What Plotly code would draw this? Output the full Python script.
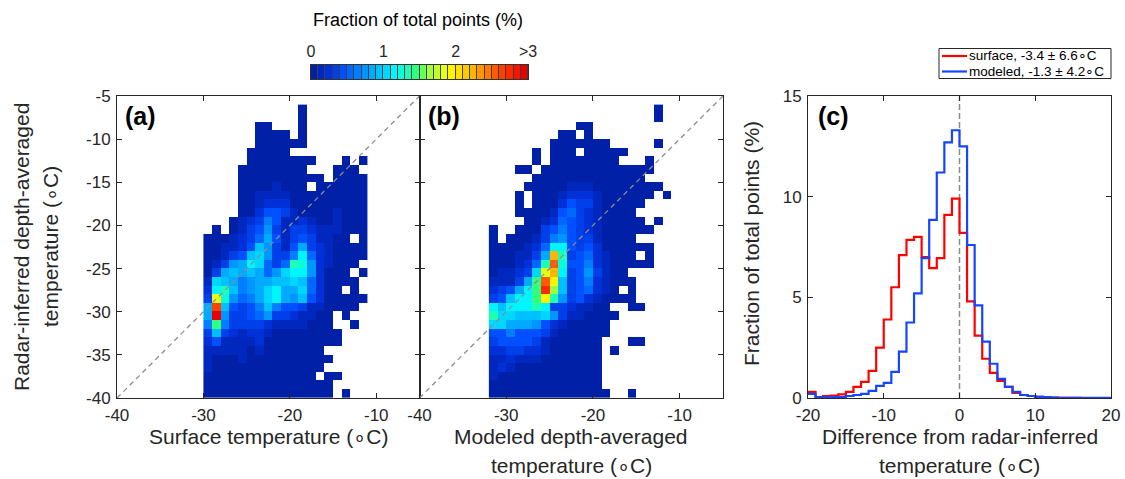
import numpy as np
import plotly.graph_objects as go

# ---------------- data ----------------
# colour level codes: each char is a 0.1 % colour step ('.' = no points)
LEVEL_CODES = "0123456789abcdefghijklmnopqrst"
LEVEL_STEP = 0.1

# Panel (a): surface temperature (x, 1 degC bins starting at -30) vs radar-inferred (y)
a_x_first_bin = -30
a_y_top_bin = -7
a_rows = [
    "...........0.......",
    "...........0.......",
    "......00...0.......",
    "......0000.0.......",
    "......000000.......",
    ".....00000.........",
    ".....00000000...0.0",
    "....00000000...000.",
    "....0000000000.0000",
    "....00001000.000000",
    "....001111000000000",
    "....001222000000000",
    "....002443100001000",
    "...0123641121001000",
    ".0.0134731332111000",
    "00012358413431100.0",
    "0011249731483210000",
    "001349a7336b5210000",
    "01378ba535dc721000.",
    "038989857abb72000.0",
    "1a98678899a9520000.",
    "2bd9678ab88a5200.0.",
    "3ic7568ab8794200000",
    "8q9434696443110000.",
    "8t7334573321100.0..",
    "6e6333321111000..0.",
    "3932122100000000...",
    "2411112000000000...",
    "11111010000000.....",
    "100010000000000....",
    "10000000000000.....",
    "0000000000000.00...",
    "000000000000000....",
    "000000000000000.0..",
]

# Panel (b): modeled depth-averaged temperature (x, bins starting at -32) vs radar-inferred (y)
b_x_first_bin = -32
b_y_top_bin = -7
b_rows = [
    "...................0..",
    "...................0..",
    "..........00..........",
    "........00.0..........",
    ".......0000000.....0..",
    ".....0.000.00000......",
    ".....0.00000000...0...",
    "...00.0000000000000...",
    ".....0000000000000....",
    "....0000011100000000..",
    "...0.00012221000000.0.",
    "...0.0002433100000....",
    "...00001453210000.....",
    "....00125432100000.0..",
    "0..0003464321000000...",
    "0.000136743310000.....",
    "0000125bb4342000000...",
    "0001138md34521000.0...",
    "000125dpc4462100000...",
    "01123aimb3473100......",
    "11138epj934621000.....",
    "2348berg9345210.0.....",
    "349bbejd734210000.....",
    "b9bbbdb3321100..00....",
    "daa999a73110000.......",
    "aa888742100000........",
    "44644431000000........",
    "3444431000000...00....",
    "2233221000000.0.......",
    "1121110000000.........",
    "1210000000000.........",
    "1000000000000.........",
    "0000000000000.........",
    "00000000000000..0.....",
]

# Panel (c): histograms of differences, 1 degC bins from -20 to 20 (fraction, %)
hist_first_edge = -20
surface_pct = [0.3, 0.05, 0.1, 0.12, 0.18, 0.3, 0.55, 0.8, 1.35, 2.5,
               3.9, 5.5, 7.1, 7.85, 8.0, 7.0, 6.45, 6.95, 9.1, 9.9,
               8.2, 4.8, 3.1, 1.95, 1.25, 0.85, 0.55, 0.25, 0.15, 0.1,
               0.05, 0.03, 0.02, 0.01, 0.01, 0.01, 0.0, 0.0, 0.0, 0.0]
modeled_pct = [0.2, 0.03, 0.03, 0.04, 0.05, 0.1, 0.15, 0.2, 0.35, 0.6,
               0.75, 1.3, 2.3, 3.75, 5.2, 6.95, 8.85, 11.2, 12.7, 13.3,
               12.5, 7.6, 4.6, 2.8, 1.7, 0.95, 0.55, 0.3, 0.15, 0.1,
               0.07, 0.04, 0.02, 0.01, 0.01, 0.01, 0.01, 0.01, 0.01, 0.01]
series_names = ["surface, -3.4 \u00b1 6.6\u2218C", "modeled, -1.3 \u00b1 4.2\u2218C"]
series_colors = ["rgb(255,0,0)", "rgb(20,70,255)"]

one_to_one = [-40, -5]
cbar_levels = [(i + 0.5) * LEVEL_STEP for i in range(30)]
cbar_tickvals = [0, 1, 2, 3]
cbar_ticktext = ["0", "1", "2", ">3"]

# ---------------- helpers ----------------
W, H = 1125, 479
FONT = "Liberation Sans, Arial, Helvetica, sans-serif"
INK = "#262626"


def px_x(p):
    return p / W


def px_y(p):
    return 1 - p / H


def decode(rows, x_first, y_top):
    width = max(len(r) for r in rows)
    z = []
    for r in rows:
        r = r.ljust(width, ".")
        z.append([None if ch == "." else (LEVEL_CODES.index(ch) + 0.5) * LEVEL_STEP for ch in r])
    z = z[::-1]
    n = len(rows)
    xc = [x_first + 0.5 + i for i in range(width)]
    yc = [y_top - (n - 1) + 0.5 + j for j in range(n)]
    return xc, yc, z


# discrete jet-like colour scale (30 steps)
anchor_idx = [0, 2, 4, 7, 10, 11, 13, 14, 16, 18, 19, 22, 25, 27, 29]
anchor_rgb = [(0, 32, 168), (0, 48, 215), (0, 80, 255), (0, 150, 255), (0, 215, 255),
              (0, 245, 255), (30, 255, 180), (50, 255, 130), (160, 255, 60), (230, 255, 20),
              (255, 245, 0), (255, 180, 0), (255, 90, 0), (255, 40, 0), (235, 0, 0)]
lv = np.arange(30)
chan = [np.interp(lv, anchor_idx, [c[k] for c in anchor_rgb]) for k in range(3)]
colors = ["rgb(%d,%d,%d)" % (chan[0][i], chan[1][i], chan[2][i]) for i in range(30)]
cscale = []
for i, c in enumerate(colors):
    cscale.append([i / 30, c])
    cscale.append([(i + 1) / 30, c])

fig = go.Figure()

xa, ya, za = decode(a_rows, a_x_first_bin, a_y_top_bin)
xb, yb, zb = decode(b_rows, b_x_first_bin, b_y_top_bin)
for (xx, yy, zz, xr, yr) in [(xa, ya, za, "x", "y"), (xb, yb, zb, "x2", "y2")]:
    fig.add_trace(go.Heatmap(x=xx, y=yy, z=zz, colorscale=cscale, zmin=0, zmax=3,
                             showscale=False, hoverongaps=False, xaxis=xr, yaxis=yr))
    fig.add_trace(go.Scatter(x=one_to_one, y=one_to_one, mode="lines", showlegend=False,
                             line=dict(color="#8c8c8c", width=1.3, dash="5px,4px"),
                             xaxis=xr, yaxis=yr, hoverinfo="skip"))

# histogram stairs
edges = [hist_first_edge + i for i in range(len(surface_pct) + 1)]
fig.add_trace(go.Scatter(x=[0, 0], y=[0, 15], mode="lines", showlegend=False,
                         line=dict(color="#8c8c8c", width=1.5, dash="6px,3px"),
                         xaxis="x3", yaxis="y3", hoverinfo="skip"))
for vals, name, col in [(surface_pct, series_names[0], series_colors[0]),
                        (modeled_pct, series_names[1], series_colors[1])]:
    fig.add_trace(go.Scatter(x=edges, y=vals + [vals[-1]], mode="lines", showlegend=False,
                             line=dict(color=col, width=2.2, shape="hv"),
                             name=name, xaxis="x3", yaxis="y3"))

# colour bar strip
fig.add_trace(go.Heatmap(x=cbar_levels, y=[0], z=[cbar_levels], colorscale=cscale, zmin=0, zmax=3,
                         showscale=False, xgap=1, xaxis="x4", yaxis="y4", hoverinfo="skip"))

tickfont = dict(family=FONT, size=17, color=INK)
common = dict(showline=True, linecolor=INK, linewidth=1, mirror="ticks", ticks="inside",
              ticklen=5, tickcolor=INK, showgrid=False, zeroline=False, tickfont=tickfont,
              automargin=False, ticklabelstandoff=2)

heat_ticks_x = [-40, -30, -20, -10]
heat_ticks_y = list(range(-40, -4, 5))
hist_ticks_x = [-20, -10, 0, 10, 20]
hist_ticks_y = [0, 5, 10, 15]

ydom = [px_y(398), px_y(96)]
fig.update_layout(
    width=W, height=H, margin=dict(l=0, r=0, t=0, b=0, pad=0),
    paper_bgcolor="white", plot_bgcolor="white", showlegend=False,
    xaxis=dict(domain=[px_x(117), px_x(419.5)], range=[-40, -5], anchor="y",
               tickvals=heat_ticks_x, ticktext=[str(v) for v in heat_ticks_x], **common),
    yaxis=dict(domain=ydom, range=[-40, -5], anchor="x",
               tickvals=heat_ticks_y, ticktext=[str(v) for v in heat_ticks_y], **common),
    xaxis2=dict(domain=[px_x(419.5), px_x(723)], range=[-40, -5], anchor="y2",
                tickvals=heat_ticks_x, ticktext=[str(v) for v in heat_ticks_x], **common),
    yaxis2=dict(domain=ydom, range=[-40, -5], anchor="x2", showticklabels=False,
                tickvals=heat_ticks_y, **common),
    xaxis3=dict(domain=[px_x(808), px_x(1111)], range=[-20, 20], anchor="y3",
                tickvals=hist_ticks_x, ticktext=[str(v) for v in hist_ticks_x], **common),
    yaxis3=dict(domain=ydom, range=[0, 15], anchor="x3",
                tickvals=hist_ticks_y, ticktext=[str(v) for v in hist_ticks_y], **common),
    xaxis4=dict(domain=[px_x(311), px_x(528)], range=[0, 3], anchor="y4", side="top",
                tickvals=cbar_tickvals, ticktext=cbar_ticktext, ticks="", showgrid=False,
                zeroline=False, showline=True, mirror=True, linecolor="#333333",
                automargin=False, ticklabelstandoff=1,
                tickfont=dict(family=FONT, size=16, color=INK)),
    yaxis4=dict(domain=[px_y(79), px_y(65)], range=[-0.5, 0.5], anchor="x4",
                showticklabels=False, ticks="", showgrid=False, zeroline=False,
                showline=True, mirror=True, linecolor="#333333", automargin=False),
)

fig.add_shape(type="rect", xref="x4 domain", yref="y4 domain", x0=0, x1=1, y0=0, y1=1,
              fillcolor="#404040", line=dict(width=0), layer="below")

# legend box (drawn by hand to keep the compact MATLAB-style layout)
fig.add_shape(type="rect", xref="paper", yref="paper", x0=px_x(939), x1=px_x(1111),
              y0=px_y(78.5), y1=px_y(48.5), fillcolor="white", line=dict(color=INK, width=1))
legend_rows_y = [56, 71.5]
for yy, col in zip(legend_rows_y, series_colors):
    fig.add_shape(type="line", xref="paper", yref="paper", x0=px_x(942), x1=px_x(967),
                  y0=px_y(yy), y1=px_y(yy), line=dict(color=col, width=2.2))

title_font = dict(family=FONT, size=21, color=INK)
ann = []


def text(xp, yp, s, font, angle=0, xanchor="center", yanchor="middle"):
    ann.append(dict(x=px_x(xp), y=px_y(yp), xref="paper", yref="paper", text=s, showarrow=False,
                    font=font, textangle=angle, xanchor=xanchor, yanchor=yanchor, borderpad=0))


for yy, name in zip(legend_rows_y, series_names):
    text(968, yy, name, dict(family=FONT, size=13.5, color="black"), xanchor="left")

text(268.5, 436, "Surface temperature (\u2218C)", title_font)
text(571, 436, "Modeled depth-averaged", title_font)
text(571, 465, "temperature (\u2218C)", title_font)
text(959.5, 436, "Difference from radar-inferred", title_font)
text(959.5, 465, "temperature (\u2218C)", title_font)
text(21, 247, "Radar-inferred depth-averaged", title_font, angle=-90)
text(50, 247, "temperature (\u2218C)", title_font, angle=-90)
text(751, 244, "Fraction of total points (%)", title_font, angle=-90)
text(418, 20, "Fraction of total points (%)", dict(family=FONT, size=18, color="black"))
label_font = dict(family=FONT, size=25, color="black")
text(124, 116, "<b>(a)</b>", label_font, xanchor="left")
text(427, 116, "<b>(b)</b>", label_font, xanchor="left")
text(817, 116, "<b>(c)</b>", label_font, xanchor="left")
fig.update_layout(annotations=ann)

fig.write_html("out.html")
